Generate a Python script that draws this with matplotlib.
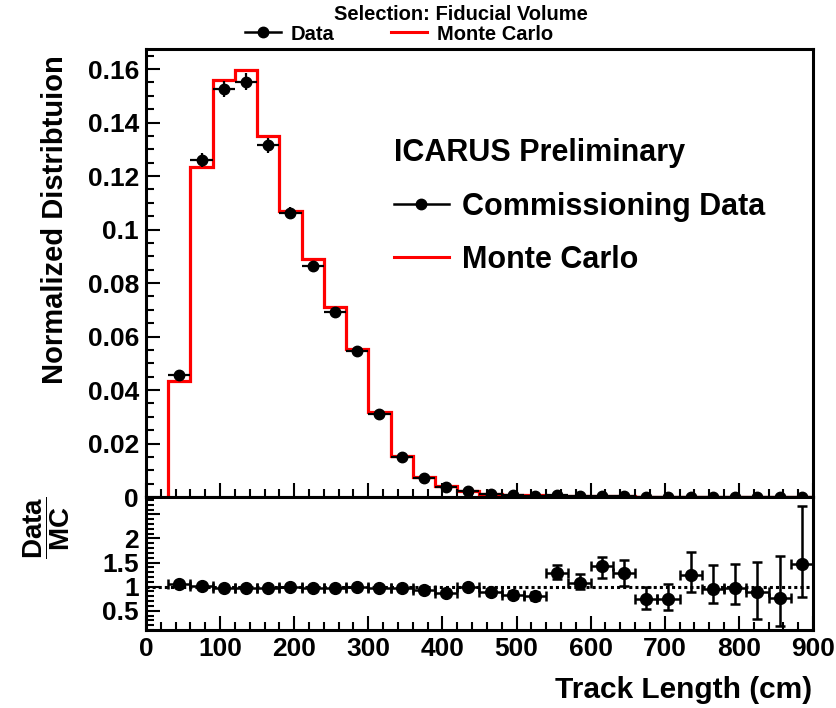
import numpy as np
import matplotlib
matplotlib.use("Agg")
import matplotlib.pyplot as plt
from matplotlib.lines import Line2D
from matplotlib.ticker import MultipleLocator

plt.rcParams['font.family'] = ['Liberation Sans', 'DejaVu Sans']
plt.rcParams['font.weight'] = 'bold'
plt.rcParams['mathtext.fontset'] = 'custom'
plt.rcParams['mathtext.rm'] = 'Liberation Sans:bold'
plt.rcParams['mathtext.bf'] = 'Liberation Sans:bold'

# track length bins (cm), 30 cm wide from 30 to 900
bin_edges = np.arange(30, 901, 30)
bin_centers = 0.5 * (bin_edges[:-1] + bin_edges[1:])

# normalized MC and data histograms
mc = [0.0433, 0.1235, 0.1560, 0.1596, 0.1350, 0.1068, 0.0889, 0.0710, 0.0552,
      0.0318, 0.0153, 0.0076, 0.0043, 0.0022, 0.0013, 0.00085, 0.00062, 0.00045,
      0.00036, 0.00028, 0.00022, 0.00018, 0.00015, 0.00012, 0.0001, 0.00008,
      0.00007, 0.00006, 0.00005]
data = [0.0455, 0.1260, 0.1525, 0.1552, 0.1315, 0.1062, 0.0862, 0.0690, 0.0547,
        0.0311, 0.0149, 0.0071, 0.0037, 0.0022, 0.00115, 0.00071, 0.0005, 0.00058,
        0.00039, 0.0004, 0.00028, 0.000133, 0.000111, 0.00015, 0.000096, 0.000077,
        0.000062, 0.000046, 0.0000735]

# ratio uncertainties (down / up)
ratio_err_lo = [0.02, 0.02, 0.02, 0.02, 0.02, 0.02, 0.02, 0.02, 0.02, 0.02, 0.02,
                0.03, 0.04, 0.05, 0.06, 0.07, 0.08, 0.14, 0.13, 0.24, 0.26, 0.20,
                0.22, 0.36, 0.29, 0.32, 0.55, 0.59, 0.68]
ratio_err_hi = [0.02, 0.02, 0.02, 0.02, 0.02, 0.02, 0.02, 0.02, 0.02, 0.02, 0.02,
                0.03, 0.04, 0.05, 0.06, 0.07, 0.08, 0.17, 0.17, 0.19, 0.27, 0.26,
                0.31, 0.46, 0.48, 0.51, 0.63, 0.87, 1.21]

mc = np.array(mc)
data = np.array(data)
ratio = data / mc
data_err = 0.5 * (np.array(ratio_err_lo) + np.array(ratio_err_hi)) * mc

fig = plt.figure(figsize=(8.37, 7.08), dpi=100)
ax1 = fig.add_axes([0.1744, 0.298, 0.7969, 0.6328])
ax2 = fig.add_axes([0.1744, 0.1102, 0.7969, 0.1878])

# top panel
ax1.stairs(mc, bin_edges, color='red', lw=2.3, baseline=0)
ax1.errorbar(bin_centers, data, xerr=15, yerr=data_err, fmt='o', color='black',
             ms=7.5, elinewidth=1.6, capsize=0, zorder=3)
ax1.set_xlim(0, 900)
ax1.set_ylim(0, 0.1675)
ax1.yaxis.set_minor_locator(MultipleLocator(0.005))
ax1.set_yticks([0, 0.02, 0.04, 0.06, 0.08, 0.1, 0.12, 0.14, 0.16])
ax1.set_yticklabels(['0', '0.02', '0.04', '0.06', '0.08', '0.1', '0.12', '0.14', '0.16'])
ax1.tick_params(labelbottom=False)

handles = [Line2D([], [], color='black', marker='o', ms=7.5, lw=1.8),
           Line2D([], [], color='red', lw=2.2)]
leg = ax1.legend(handles, ['Commissioning Data', 'Monte Carlo'],
                 title='ICARUS Preliminary', loc='upper left',
                 bbox_to_anchor=(0.33, 0.862), frameon=False,
                 prop={'size': 22, 'weight': 'bold'},
                 title_fontproperties={'size': 22, 'weight': 'bold'},
                 alignment='left', handlelength=1.8, handletextpad=0.45,
                 labelspacing=0.75)
leg._legend_box.sep = 17

# ratio panel
ax2.axhline(1.0, color='black', lw=2.2, ls=(0, (1, 1)))
ax2.errorbar(bin_centers, ratio, xerr=15, yerr=[ratio_err_lo, ratio_err_hi],
             fmt='o', color='black', ms=8.5, elinewidth=1.8, capsize=3.5,
             capthick=1.8, zorder=3)
ax2.set_xlim(0, 900)
ax2.set_ylim(0.1, 2.86)
ax2.yaxis.set_minor_locator(MultipleLocator(0.1))
ax2.set_yticks([0.5, 1, 1.5, 2, 2.5])
ax2.set_yticklabels(['0.5', '1', '1.5', '2', ''])

for ax in (ax1, ax2):
    ax.xaxis.set_major_locator(MultipleLocator(100))
    ax.xaxis.set_minor_locator(MultipleLocator(20))
    ax.tick_params(which='both', direction='in', width=1.5, labelsize=19,
                   top=False, right=False)
    ax.tick_params(which='major', length=10, pad=5)
    ax.tick_params(which='minor', length=5.5)
    for s in ax.spines.values():
        s.set_linewidth(2.2)

fig.text(55 / 837, 1 - 220 / 708, 'Normalized Distribtuion', rotation=90,
         ha='center', va='center', fontsize=21, fontweight='bold')
fig.text(47 / 837, 1 - 528 / 708, r'$\dfrac{\mathbf{Data}}{\mathbf{MC}}$',
         rotation=90, ha='center', va='center', fontsize=20)
fig.text(812 / 837, 1 - 690 / 708, 'Track Length (cm)', ha='right',
         va='center', fontsize=21.5, fontweight='bold')

# header: selection title with a compact legend just under it
fig.text(461 / 837, 1 - 15 / 708, 'Selection: Fiducial Volume', ha='center',
         va='center', fontsize=14.5, fontweight='bold')
fig.legend(handles, ['Data', 'Monte Carlo'], loc='center',
           bbox_to_anchor=(399 / 837, 1 - 34 / 708), ncol=2, frameon=False,
           prop={'size': 14.5, 'weight': 'bold'}, handlelength=1.8,
           handletextpad=0.5, columnspacing=2.8, borderpad=0)

fig.savefig('out.png', dpi=100)
